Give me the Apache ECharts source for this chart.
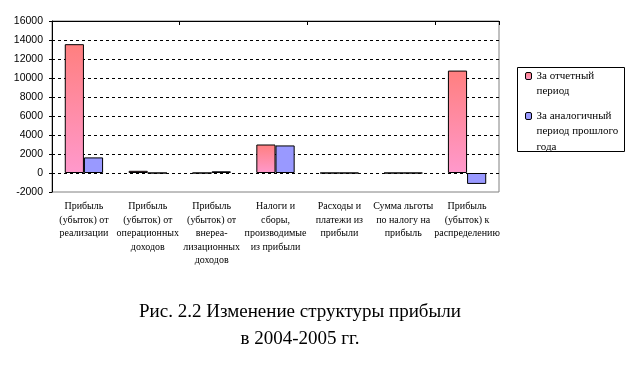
<!DOCTYPE html>
<html><head><meta charset="utf-8">
<script src="https://cdn.jsdelivr.net/npm/echarts@6/dist/echarts.min.js"></script>
<style>html,body{margin:0;padding:0;background:#fff}#c{width:641px;height:375px}</style>
</head><body><div id="c"></div>
<script>
var categories = [
  "Прибыль\n(убыток) от\nреализации",
  "Прибыль\n(убыток) от\nоперационных\nдоходов",
  "Прибыль\n(убыток) от\nвнереа-\nлизационных\nдоходов",
  "Налоги и\nсборы,\nпроизводимые\nиз прибыли",
  "Расходы и\nплатежи из\nприбыли",
  "Сумма льготы\nпо налогу на\nприбыль",
  "Прибыль\n(убыток) к\nраспределению"
];
var seriesNames = ["За отчетный\nпериод", "За аналогичный\nпериод прошлого\nгода"];
var currentValues = [13560, 230, 0, 3000, 0, 0, 10780];
var previousValues = [1640, 0, 180, 2900, 0, 0, -1150];
var yTicks = {min: -2000, max: 16000, interval: 2000};
var captionText = "Рис. 2.2 Изменение структуры прибыли\nв 2004-2005 гг.";

var chart = echarts.init(document.getElementById('c'), null, {renderer: 'canvas'});
var redGrad = new echarts.graphic.LinearGradient(0, 0, 0, 1, [
  {offset: 0, color: '#FF7F7F'}, {offset: 1, color: '#FF99CC'}
]);
var legendText = {fontFamily: 'Liberation Serif', fontSize: 11, color: '#000', lineHeight: 15.5};
function topAlign(name) {
  var n = name.split('\n').length;
  var pre = '';
  for (var i = 1; i < n; i++) pre += '\n';
  return pre + name;
}
function makeLegend(name, top) {
  return {data: [name], orient: 'vertical', left: 525, top: top, padding: 0,
    itemWidth: 6, itemHeight: 7, itemGap: 0, formatter: topAlign,
    textStyle: legendText, itemStyle: {borderColor: '#000', borderWidth: 1}};
}
chart.setOption({
  animation: false,
  title: {
    text: captionText, left: 295, top: 294, textAlign: 'center',
    textStyle: {fontFamily: 'Liberation Serif', fontSize: 19, fontWeight: 'normal', color: '#000', lineHeight: 27}
  },
  grid: {left: 52, right: 142, top: 21, bottom: 183, show: true, borderColor: '#808080', borderWidth: 1, backgroundColor: 'transparent'},
  legend: [makeLegend(seriesNames[0], 52.75), makeLegend(seriesNames[1], 77.25)],
  graphic: [{type: 'rect', shape: {x: 517.5, y: 67.5, width: 107, height: 84}, style: {fill: 'none', stroke: '#000', lineWidth: 1}, silent: true}],
  xAxis: [
    {type: 'category', data: categories, position: 'bottom',
     axisLine: {show: false}, axisTick: {show: false},
     axisLabel: {interval: 0, margin: 8, fontFamily: 'Liberation Serif', fontSize: 10, lineHeight: 13.5, color: '#000'}},
    {type: 'category', data: categories, position: 'top',
     axisLine: {show: true, onZero: true, lineStyle: {color: '#000', width: 1}},
     axisTick: {show: true, inside: true, length: 4, lineStyle: {color: '#000'}},
     axisLabel: {show: false}}
  ],
  yAxis: {
    type: 'value', min: yTicks.min, max: yTicks.max, interval: yTicks.interval,
    axisLine: {show: true, lineStyle: {color: '#000'}},
    axisTick: {show: true, length: 3, lineStyle: {color: '#000'}},
    axisLabel: {fontFamily: 'Liberation Sans', fontSize: 10.5, color: '#000', margin: 9,
      formatter: function (v) { return String(v); }},
    splitLine: {show: true, showMinLine: false, showMaxLine: false, lineStyle: {color: '#000', type: [3, 3], width: 1}}
  },
  series: [
    {name: seriesNames[0], type: 'bar', xAxisIndex: 1, data: currentValues, barGap: '0%', barCategoryGap: '40%',
     itemStyle: {color: redGrad, borderColor: '#000', borderWidth: 1}},
    {name: seriesNames[1], type: 'bar', xAxisIndex: 1, data: previousValues,
     itemStyle: {color: '#9999FF', borderColor: '#000', borderWidth: 1}}
  ]
});
</script></body></html>
